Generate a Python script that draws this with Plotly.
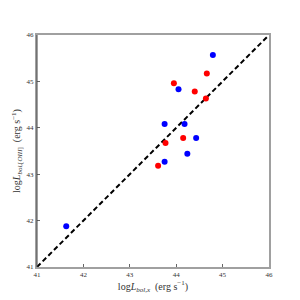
import plotly.graph_objects as go

blue_x = [41.63, 44.79, 44.05, 43.75, 44.18, 44.43, 44.24, 43.75]
blue_y = [41.88, 45.57, 44.83, 44.08, 44.08, 43.78, 43.44, 43.27]
red_x = [44.66, 43.95, 44.40, 44.64, 44.15, 43.77, 43.61]
red_y = [45.17, 44.96, 44.78, 44.63, 43.78, 43.67, 43.18]
line_v = [41, 46]
ticks = [41, 42, 43, 44, 45, 46]

fig = go.Figure()
fig.add_trace(go.Scatter(x=line_v, y=line_v, mode="lines",
                         line=dict(color="black", width=2, dash="5px,3px"), showlegend=False))
fig.add_trace(go.Scatter(x=blue_x, y=blue_y, mode="markers",
                         marker=dict(color="#0000ff", size=6), showlegend=False))
fig.add_trace(go.Scatter(x=red_x, y=red_y, mode="markers",
                         marker=dict(color="#ff0000", size=6), showlegend=False))

font = "Liberation Serif"
fig.update_layout(
    width=292, height=292,
    margin=dict(l=29, r=31, t=27, b=33, autoexpand=False),
    plot_bgcolor="white", paper_bgcolor="white",
    font=dict(family=font, color="#333"),
    xaxis=dict(range=[41, 46], tickvals=ticks, showgrid=False, zeroline=False,
               showline=True, linecolor="#a0a0a0", linewidth=2, mirror=True, automargin=False,
               ticks="inside", ticklen=3, tickcolor="#666", tickfont=dict(size=7, family=font),
               title=dict(text="log<i>L</i><sub><i>bol,x</i></sub>  (erg s<sup>−1</sup>)",
                          font=dict(size=10, family=font), standoff=3)),
    yaxis=dict(range=[41, 46], tickvals=ticks, showgrid=False, zeroline=False,
               showline=True, linecolor="#a0a0a0", linewidth=2, mirror=True, automargin=False,
               ticks="inside", ticklen=3, tickcolor="#666", tickfont=dict(size=7, family=font),
               title=dict(text="log<i>L</i><sub><i>bol</i>,[<i>OIII</i>]</sub>  (erg s<sup>−1</sup>)",
                          font=dict(size=10, family=font), standoff=4)),
)
fig.add_shape(type="line", xref="paper", yref="paper", x0=0, x1=0, y0=0, y1=1,
              line=dict(color="#444", width=1))
fig.write_html("out.html")
